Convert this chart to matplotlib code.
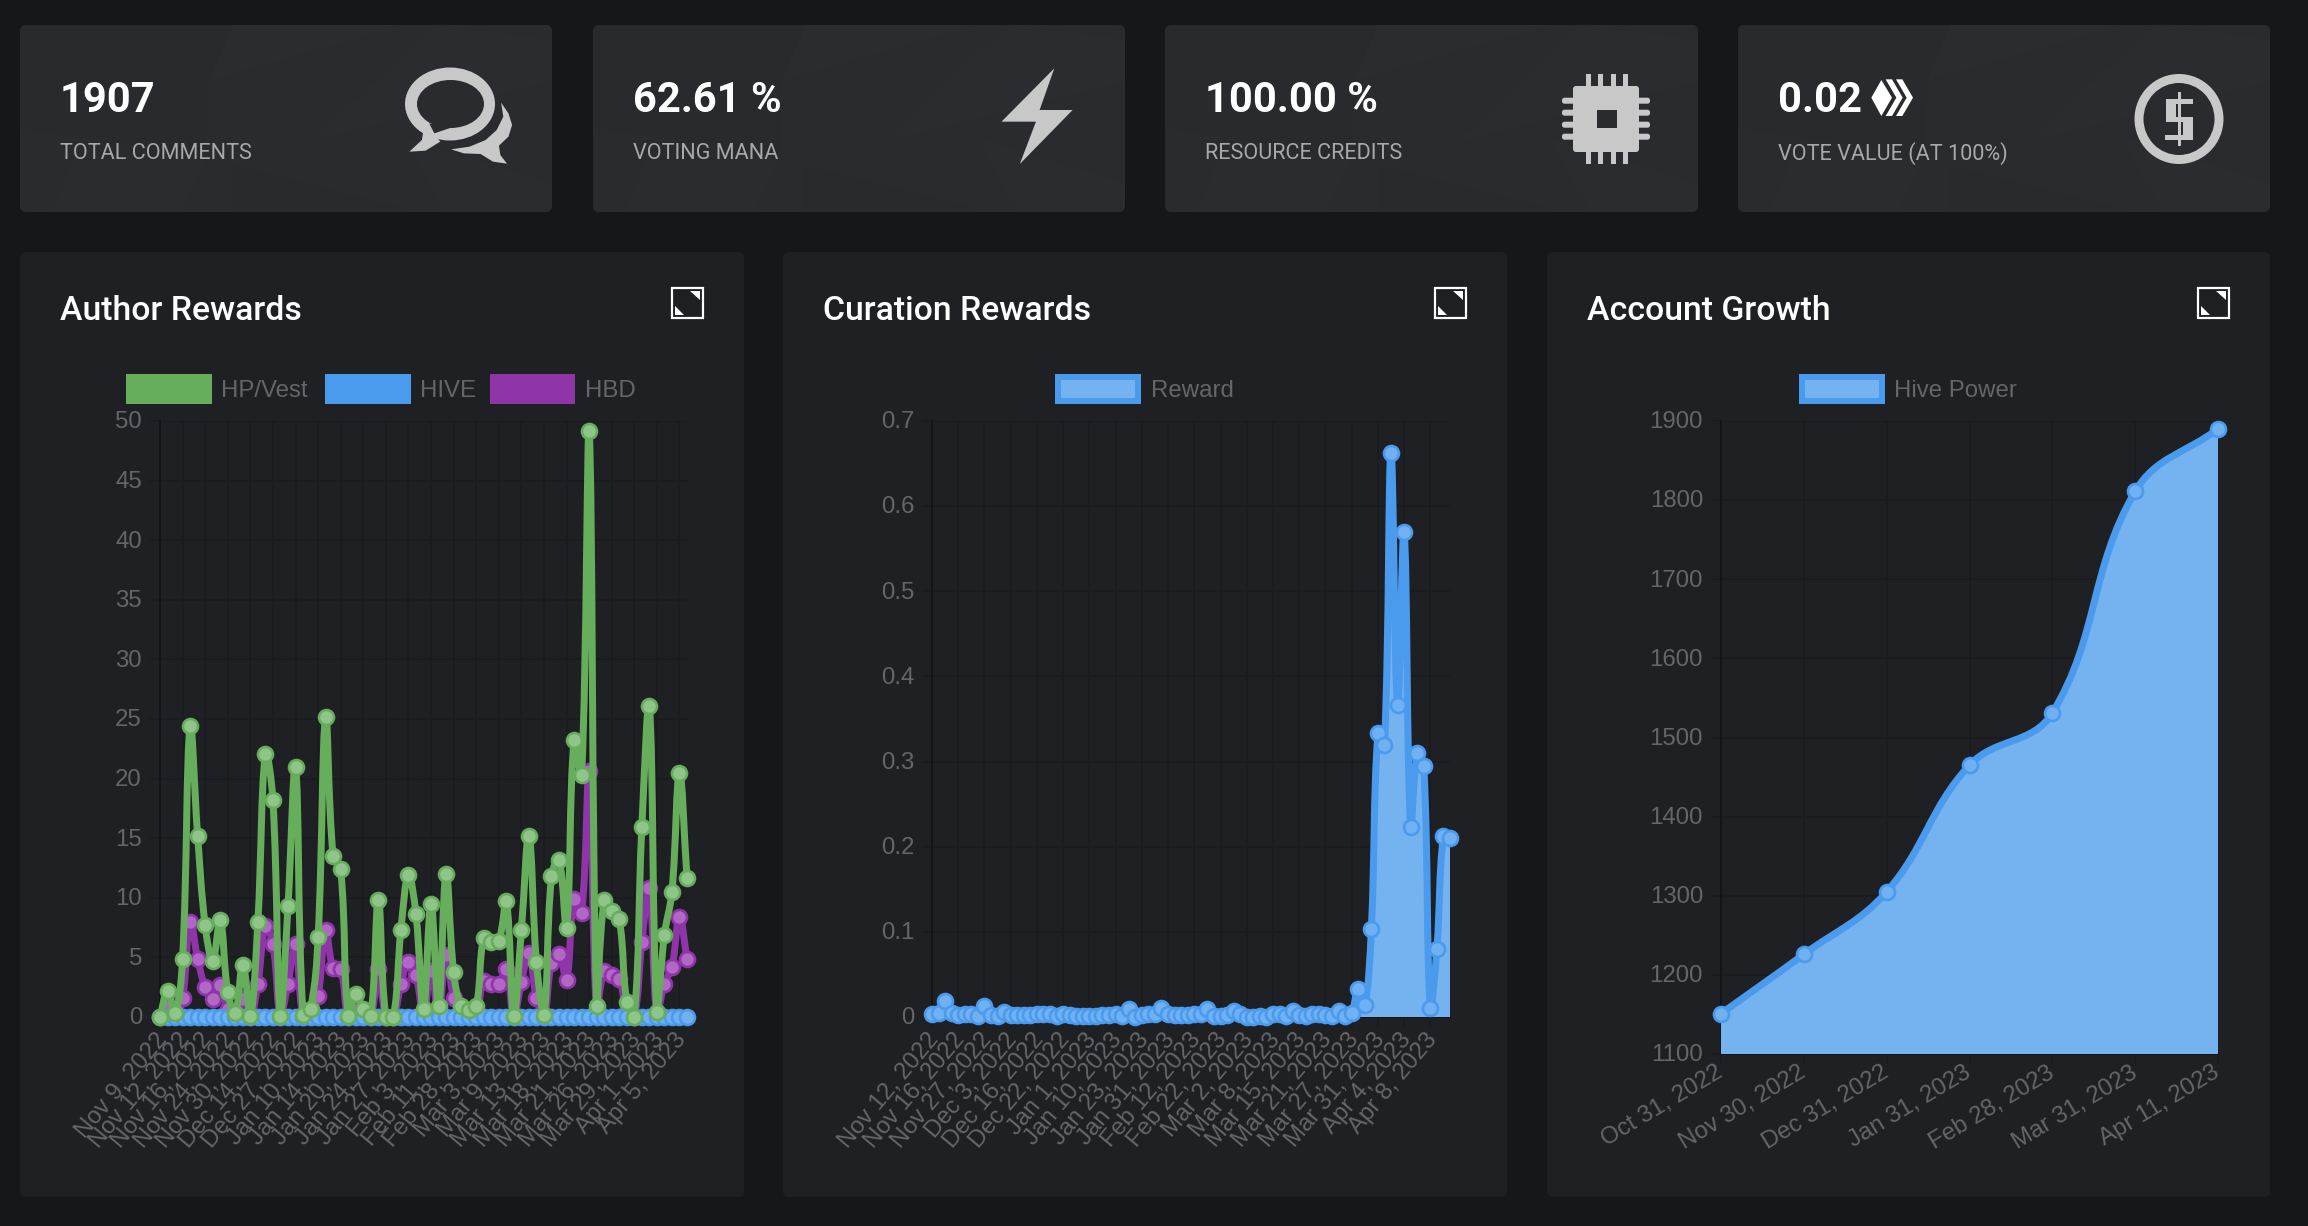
import numpy as np
import matplotlib
matplotlib.use("Agg")
import matplotlib.pyplot as plt
from matplotlib.path import Path
from matplotlib.patches import PathPatch, Rectangle, Polygon, Ellipse, FancyBboxPatch
from matplotlib.transforms import ScaledTranslation

W, H = 2308, 1226
DPI = 100
PX = 72 / DPI

# ---------- data ----------
stat_values = ["1907", "62.61 %", "100.00 %", "0.02"]
stat_labels = ["TOTAL COMMENTS", "VOTING MANA", "RESOURCE CREDITS", "VOTE VALUE (AT 100%)"]
chart_titles = ["Author Rewards", "Curation Rewards", "Account Growth"]

author_hp = [0.0, 2.2, 0.3, 4.9, 24.4, 15.2, 7.7, 4.7, 8.1, 2.1, 0.3, 4.4, 0.1, 8.0, 22.1, 18.2, 0.1, 9.3,
             21.0, 0.2, 0.7, 6.7, 25.2, 13.5, 12.4, 0.1, 1.9, 0.7, 0.1, 9.8, 0.0, 0.0, 7.3, 11.9, 8.6, 0.7,
             9.5, 0.9, 12.0, 3.8, 0.9, 0.6, 0.9, 6.6, 6.3, 6.4, 9.7, 0.05, 7.3, 15.2, 4.6, 0.2, 11.8, 13.2,
             7.5, 23.2, 20.3, 49.2, 0.9, 9.8, 8.9, 8.2, 1.3, 0.0, 15.9, 26.1, 0.4, 6.9, 10.5, 20.5, 11.7]
author_hbd = [0.0, 0.8, 0.1, 1.6, 8.0, 4.9, 2.5, 1.5, 2.7, 0.7, 0.1, 1.5, 0.0, 2.8, 7.6, 6.1, 0.0, 2.8,
              6.1, 0.0, 0.2, 1.8, 7.3, 4.1, 4.0, 0.0, 0.6, 0.2, 0.0, 4.0, 0.0, 0.0, 2.8, 4.6, 3.5, 0.2,
              3.9, 0.3, 5.2, 1.6, 0.3, 0.2, 0.3, 3.0, 2.8, 2.8, 4.0, 0.0, 2.9, 5.4, 1.6, 0.0, 4.5, 5.3,
              3.1, 9.9, 8.7, 20.6, 0.3, 3.9, 3.5, 3.2, 0.5, 0.0, 6.3, 10.8, 0.1, 2.8, 4.2, 8.4, 4.9]
author_hive = [0.0] * 71
author_ticks = ["Nov 9, 2022", "Nov 12, 2022", "Nov 16, 2022", "Nov 24, 2022", "Nov 30, 2022", "Dec 14, 2022",
                "Dec 27, 2022", "Jan 10, 2023", "Jan 14, 2023", "Jan 20, 2023", "Jan 24, 2023", "Jan 27, 2023",
                "Feb 3, 2023", "Feb 11, 2023", "Feb 28, 2023", "Mar 3, 2023", "Mar 9, 2023", "Mar 13, 2023",
                "Mar 18, 2023", "Mar 21, 2023", "Mar 26, 2023", "Mar 29, 2023", "Apr 1, 2023", "Apr 5, 2023"]

curation = [.004, .005, .019, .005, .002, .004, .004, .001, .013, .002, .001, .006, .002, .002, .002, .002,
            .003, .003, .003, .001, .004, .002, .001, .001, .001, .001, .002, .002, .003, .001, .009, .000,
            .002, .003, .004, .010, .004, .002, .002, .002, .003, .004, .009, .001, .001, .002, .007, .003,
            .000, .000, .001, .000, .004, .004, .001, .007, .002, .001, .004, .003, .002, .001, .007, .001,
            .005, .033, .014, .103, .333, .320, .663, .367, .570, .223, .310, .295, .010, .080, .213, .210]
curation_ticks = ["Nov 12, 2022", "Nov 16, 2022", "Nov 27, 2022", "Dec 3, 2022", "Dec 16, 2022", "Dec 22, 2022",
                  "Jan 1, 2023", "Jan 10, 2023", "Jan 23, 2023", "Jan 31, 2023", "Feb 12, 2023", "Feb 22, 2023",
                  "Mar 2, 2023", "Mar 8, 2023", "Mar 15, 2023", "Mar 21, 2023", "Mar 27, 2023", "Mar 31, 2023",
                  "Apr 4, 2023", "Apr 8, 2023"]

growth = [1151, 1226, 1305, 1465, 1531, 1811, 1890]
growth_ticks = ["Oct 31, 2022", "Nov 30, 2022", "Dec 31, 2022", "Jan 31, 2023", "Feb 28, 2023", "Mar 31, 2023",
                "Apr 11, 2023"]

# ---------- style ----------
PAGE = "#16171a"
CARD = "#1e2024"
STAT = "#2a2b2f"
ICON = "#c8c8c8"
GRAY = "#666666"
GRID = "#1a1c1f"
AXIS = "#131416"
GREEN, GREEN_M = "#66ad5c", "#8fc589"
BLUE, BLUE_M, BLUE_F = "#4a9aee", "#6fb1f3", "#74b2f0"
PURPLE, PURPLE_M = "#8e35a8", "#b266c6"
UI = "Roboto"
CH = "Liberation Sans"
TICK_FS = 17.3

fig = plt.figure(figsize=(W / DPI, H / DPI), dpi=DPI, facecolor=PAGE)
bg = fig.add_axes([0, 0, 1, 1], zorder=0)
bg.set_xlim(0, W)
bg.set_ylim(H, 0)
bg.axis("off")


def rbox(x0, y0, x1, y1, color, r=6):
    p = FancyBboxPatch((x0 + r, y0 + r), x1 - x0 - 2 * r, y1 - y0 - 2 * r,
                       boxstyle=f"round,pad={r},rounding_size={r}", fc=color, ec="none")
    bg.add_patch(p)
    return p


def poly(points, color, **kw):
    p = Polygon(points, closed=True, fc=color, ec="none", **kw)
    bg.add_patch(p)
    return p


# ---------- stat cards ----------
stat_boxes = [(20, 25, 552, 212), (593, 25, 1125, 212), (1165, 25, 1698, 212), (1738, 25, 2270, 212)]
light = [[(.40, 0), (.355, .295), (.72, 0)],
         [(.78, 0), (1, .08), (1, .30), (.55, .62)],
         [(.72, .60), (1, .85), (1, 1), (.80, 1)],
         [(.10, .72), (.35, .72), (.30, 1), (.06, 1)]]
dark = [[(0, 0), (.40, 0), (.355, .295), (.35, .70), (0, .55)],
        [(.40, .75), (.72, .98), (.40, 1)]]
for (x0, y0, x1, y1), val, lab in zip(stat_boxes, stat_values, stat_labels):
    cp = rbox(x0, y0, x1, y1, STAT)
    w, h = x1 - x0, y1 - y0
    for pts in light:
        poly([(x0 + a * w, y0 + b * h) for a, b in pts], "#ffffff", alpha=0.009, clip_path=cp)
    for pts in dark:
        poly([(x0 + a * w, y0 + b * h) for a, b in pts], "#000000", alpha=0.018, clip_path=cp)
    bg.text(x0 + 40, 100, val, color="white", fontsize=30, family=UI, weight="bold", ha="left", va="center")
    bg.text(x0 + 40, 153.5, lab, color="#a8a8a8", fontsize=15.6, family=UI, ha="left", va="center")

# comments icon
zx, zy = 1 / 1.363, 1 / 3
z5 = lambda pts: [(a * zx, b * zy) for a, b in pts]
poly(z5([(683, 308), (693, 340), (698, 375), (693, 410), (680, 437), (682, 465), (691, 491), (672, 485), (655, 462),
         (632, 460), (615, 448), (640, 440), (662, 420), (677, 390), (686, 350)]), ICON)
bg.add_patch(Ellipse((450, 104), 90, 73, fc=ICON, ec="none"))
poly(z5([(577, 393), (575, 420), (558, 455), (580, 452), (600, 425), (592, 400)]), ICON)
bg.add_patch(Ellipse((450.5, 104), 67, 48, fc=STAT, ec="none"))
poly(z5([(585, 370), (592, 400), (615, 383)]), STAT)
# bolt
poly(z5([(1437, 205), (1365, 365), (1412, 365), (1390, 492), (1462, 330), (1417, 330)]), ICON)
# chip: pins first, body over them
for cx in (1588, 1600.5, 1613, 1625):
    bg.add_patch(Rectangle((cx - 2.5, 74), 5, 90, fc=ICON, ec="none"))
for cy in (100.7, 112.7, 124.7, 136.7):
    bg.add_patch(FancyBboxPatch((1564, cy - 1), 84, 2, boxstyle="round,pad=2,rounding_size=2.5", fc=ICON, ec="none"))
bg.add_patch(FancyBboxPatch((1575, 88), 62, 62, boxstyle="round,pad=2,rounding_size=3", fc=ICON, ec="none"))
bg.add_patch(Rectangle((1597, 110), 20, 18, fc=STAT, ec="none"))
# dollar
bg.add_patch(Ellipse((2179, 119), 89, 90, fc=ICON, ec="none"))
bg.add_patch(Ellipse((2179, 119), 71, 72, fc=STAT, ec="none"))
for (a, b, c, d) in [(2177.5, 92, 2180.5, 146), (2165.5, 99, 2193, 104), (2165.5, 99, 2176, 122), (2165.5, 117, 2193, 122),
                     (2182.5, 117, 2193, 140), (2165, 135, 2193, 140)]:
    bg.add_patch(Rectangle((a, b), c - a, d - b, fc=ICON, ec="none"))
# hive logo
z10 = lambda pts: [(a / 3 + 1770, b / 3 + 60) for a, b in pts]
poly(z10([(304, 113), (334, 60), (366, 113), (334, 168)]), "white")
poly(z10([(347, 58), (366, 58), (398, 113), (366, 168), (347, 168), (379, 113)]), "white")
poly(z10([(378, 58), (397, 58), (429, 113), (397, 168), (378, 168), (410, 113)]), "white")

# ---------- chart cards ----------
card_x = [(20, 744), (783, 1507), (1547, 2270)]
for (x0, x1), title in zip(card_x, chart_titles):
    rbox(x0, 252, x1, 1197, CARD)
    bg.text(x0 + 40, 311, title, color="white", fontsize=24.3, family=UI, weight="medium", ha="left", va="center")
    ix0, ix1, iy0, iy1 = x1 - 73, x1 - 40, 287, 319
    bg.add_patch(Rectangle((ix0 + 1, iy0 + 1), ix1 - ix0 - 2, iy1 - iy0 - 2, fc=CARD, ec="white", lw=2.2 * PX))
    poly([(ix0 + 19, iy0 + 4), (ix1 - 4, iy0 + 4), (ix1 - 4, iy0 + 13)], "white")
    poly([(ix0 + 4, iy1 - 13), (ix0 + 13, iy1 - 4), (ix0 + 4, iy1 - 4)], "white")


def legend(x0, x1, label, lx, face, edge=None):
    if edge:
        bg.add_patch(Rectangle((x0 + 3, 377), x1 - x0 - 6, 24, fc=face, ec=edge, lw=6 * PX))
    else:
        bg.add_patch(Rectangle((x0, 374), x1 - x0, 30, fc=face, ec="none"))
    bg.text(lx, 391, label, color=GRAY, fontsize=TICK_FS, family=CH, ha="left", va="center")


legend(126, 212, "HP/Vest", 221, GREEN)
legend(325, 411, "HIVE", 420, BLUE)
legend(490, 575, "HBD", 585, PURPLE)
legend(1055, 1141, "Reward", 1151, BLUE_F, BLUE)
legend(1799, 1885, "Hive Power", 1894, BLUE_F, BLUE)


def spline(xs, ys, box, ymin, ymax, t=0.4):
    """Chart.js style bezier through the points, computed in pixel space."""
    xs, ys = np.asarray(xs, float), np.asarray(ys, float)
    sx = (box[1] - box[0]) / (xs[-1] - xs[0])
    sy = (box[3] - box[2]) / (ymax - ymin)
    p = np.column_stack([xs * sx, ys * sy])
    n = len(p)
    verts, codes = [tuple(p[0])], [Path.MOVETO]
    lo = np.array([xs[0] * sx, ymin * sy])
    hi = np.array([xs[-1] * sx, ymax * sy])
    before, after = np.zeros_like(p), np.zeros_like(p)
    for i in range(n):
        a, b, c = p[max(i - 1, 0)], p[i], p[min(i + 1, n - 1)]
        d1, d2 = np.hypot(*(b - a)), np.hypot(*(c - b))
        tot = d1 + d2
        f1 = t * d1 / tot if tot else 0
        f2 = t * d2 / tot if tot else 0
        before[i] = np.clip(b - f1 * (c - a), lo, hi)
        after[i] = np.clip(b + f2 * (c - a), lo, hi)
    for i in range(n - 1):
        verts += [tuple(after[i]), tuple(before[i + 1]), tuple(p[i + 1])]
        codes += [Path.CURVE4] * 3
    v = np.array(verts) / [sx, sy]
    return v, codes


def make_axes(box, ymin, ymax, yticks, yfmt):
    x0, x1, y0, y1 = box
    ax = fig.add_axes([x0 / W, 1 - y1 / H, (x1 - x0) / W, (y1 - y0) / H], zorder=2)
    ax.patch.set_visible(False)
    ax.set_ylim(ymin, ymax)
    ax.set_yticks(yticks)
    ax.set_yticklabels([yfmt(v) for v in yticks], family=CH, fontsize=TICK_FS, color=GRAY)
    ax.grid(True, color=GRID, lw=1.5 * PX)
    ax.set_axisbelow(True)
    ax.tick_params(axis="y", length=10 * PX, width=1.5 * PX, color=GRID, pad=8 * PX)
    ax.tick_params(axis="x", length=10 * PX, width=1.5 * PX, color=GRID, pad=7 * PX)
    for s in ("top", "right"):
        ax.spines[s].set_visible(False)
    ax.spines["left"].set_color(AXIS)
    ax.spines["left"].set_linewidth(2 * PX)
    ax.spines["bottom"].set_color(AXIS)
    ax.spines["bottom"].set_linewidth(2 * PX)
    up = ScaledTranslation(0, 1.2 / DPI, fig.dpi_scale_trans)
    for lab in ax.get_yticklabels():
        lab.set_transform(lab.get_transform() + up)
    return ax


def set_xticks(ax, n, labels, every, rot, dx=0, dy=0):
    ax.set_xlim(0, n - 1)
    ticks = list(range(0, n, every))[:len(labels)]
    ax.set_xticks(ticks)
    ax.set_xticklabels(labels, family=CH, fontsize=TICK_FS, color=GRAY, rotation=rot, ha="right", va="center",
                       rotation_mode="anchor")
    shift = ScaledTranslation(dx / DPI, -dy / DPI, fig.dpi_scale_trans)
    for lab in ax.get_xticklabels():
        lab.set_transform(lab.get_transform() + shift)


def draw_series(ax, box, vals, ymin, ymax, line, marker, lw=7, fill=None, ms=15):
    xs = np.arange(len(vals))
    v, c = spline(xs, vals, box, ymin, ymax)
    if fill:
        fv = np.vstack([v, [xs[-1], ymin], [xs[0], ymin], v[0]])
        fc = list(c) + [Path.LINETO, Path.LINETO, Path.CLOSEPOLY]
        ax.add_patch(PathPatch(Path(fv, fc), fc=fill, ec="none", zorder=3, clip_on=False))
    ax.add_patch(PathPatch(Path(v, c), fc="none", ec=line, lw=lw * PX, zorder=3, clip_on=False, joinstyle="round",
                           capstyle="round"))
    ax.plot(xs, vals, ls="none", marker="o", ms=ms * PX, mfc=marker, mec=line, mew=2.6 * PX, zorder=3, clip_on=False)


# Author Rewards
box1 = (160, 687, 421, 1017)
ax1 = make_axes(box1, 0, 50, list(range(0, 51, 5)), lambda v: str(v))
set_xticks(ax1, len(author_hp), author_ticks, 3, 50, dx=3, dy=2)
draw_series(ax1, box1, author_hbd, 0, 50, PURPLE, PURPLE_M)
draw_series(ax1, box1, author_hive, 0, 50, BLUE, BLUE_M)
draw_series(ax1, box1, author_hp, 0, 50, GREEN, GREEN_M)

# Curation Rewards
box2 = (932, 1450, 421, 1017)
ax2 = make_axes(box2, 0, 0.7, [0, .1, .2, .3, .4, .5, .6, .7], lambda v: "0" if v == 0 else f"{v:.1f}")
set_xticks(ax2, len(curation), curation_ticks, 4, 50, dx=3, dy=2)
draw_series(ax2, box2, curation, 0, 0.7, BLUE, BLUE_M, fill=BLUE_F)

# Account Growth
box3 = (1721, 2218, 421, 1054)
ax3 = make_axes(box3, 1100, 1900, list(range(1100, 1901, 100)), lambda v: str(v))
set_xticks(ax3, len(growth), growth_ticks, 1, 31)
draw_series(ax3, box3, growth, 1100, 1900, BLUE, BLUE_M, fill=BLUE_F)

fig.savefig("out.png", dpi=DPI, facecolor=PAGE)
